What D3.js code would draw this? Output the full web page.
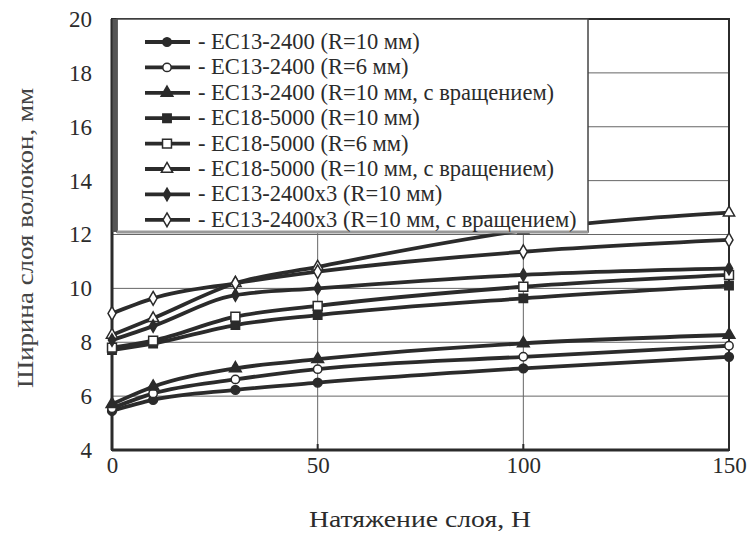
<!DOCTYPE html>
<html>
<head>
<meta charset="utf-8">
<script src="https://cdn.jsdelivr.net/npm/d3@7"></script>
<style>
  body { margin: 0; background: #fff; }
</style>
</head>
<body>
<div id="chart"></div>
<script>
// tension values (H)
const tension = [0, 10, 30, 50, 100, 150];

const s1 = [5.45, 5.86, 6.23, 6.5, 7.03, 7.46];   // EC13-2400 R=10
const s2 = [5.55, 6.1, 6.62, 7.0, 7.46, 7.87];    // EC13-2400 R=6
const s3 = [5.7, 6.35, 7.03, 7.37, 7.96, 8.27];   // EC13-2400 R=10 rot
const s4 = [7.71, 7.95, 8.64, 9.01, 9.63, 10.1];  // EC18-5000 R=10
const s5 = [7.8, 8.06, 8.95, 9.35, 10.06, 10.5];  // EC18-5000 R=6
const s6 = [8.27, 8.89, 10.19, 10.8, 12.15, 12.81]; // EC18-5000 R=10 rot
const s7 = [8.08, 8.6, 9.75, 10.0, 10.5, 10.74];  // EC13-2400x3 R=10
const s8 = [9.07, 9.63, 10.19, 10.62, 11.36, 11.8]; // EC13-2400x3 rot

const labels = [
  "EC13-2400 (R=10 мм)",
  "EC13-2400 (R=6 мм)",
  "EC13-2400 (R=10 мм, с вращением)",
  "EC18-5000 (R=10 мм)",
  "EC18-5000 (R=6 мм)",
  "EC18-5000 (R=10 мм, с вращением)",
  "EC13-2400x3 (R=10 мм)",
  "EC13-2400x3 (R=10 мм, с вращением)"
];
const xTicks = [0, 50, 100, 150];
const yTicks = [4, 6, 8, 10, 12, 14, 16, 18, 20];

const series = [s1, s2, s3, s4, s5, s6, s7, s8];
// marker per series: symbol, filled?, size
const marks = [
  [d3.symbolCircle, true, 60],
  [d3.symbolCircle, false, 55],
  [d3.symbolTriangle, true, 60],
  [d3.symbolSquare, true, 70],
  [d3.symbolSquare, false, 80],
  [d3.symbolTriangle, false, 55],
  [d3.symbolDiamond, true, 45],
  [d3.symbolDiamond, false, 55]
];

const width = 750, height = 533;
const margin = { top: 19, right: 21, bottom: 83, left: 112 };
const ink = "#2b2b2b";
const serif = "Liberation Serif";

const svg = d3.select("#chart").append("svg")
  .attr("width", width).attr("height", height)
  .attr("font-family", serif);

var x = d3.scaleLinear().domain([0, 150]).range([margin.left, width - margin.right]);
var y = d3.scaleLinear().domain([4, 20]).range([height - margin.bottom, margin.top]);

// grid
svg.append("g").selectAll("line").data(yTicks.slice(1, -1)).join("line")
  .attr("x1", x(0)).attr("x2", x(150))
  .attr("y1", d => y(d)).attr("y2", d => y(d))
  .attr("stroke", "#666").attr("stroke-width", 1);
svg.append("g").selectAll("line").data(xTicks.slice(1, -1)).join("line")
  .attr("x1", d => x(d)).attr("x2", d => x(d))
  .attr("y1", y(4)).attr("y2", y(20))
  .attr("stroke", "#666").attr("stroke-width", 1);

// frame
svg.append("rect")
  .attr("x", x(0)).attr("y", y(20))
  .attr("width", x(150) - x(0)).attr("height", y(4) - y(20))
  .attr("fill", "none").attr("stroke", ink).attr("stroke-width", 2);
svg.append("line").attr("x1", x(0)).attr("x2", x(0)).attr("y1", y(20)).attr("y2", y(4))
  .attr("stroke", ink).attr("stroke-width", 3);
svg.append("line").attr("x1", x(0)).attr("x2", x(150)).attr("y1", y(4)).attr("y2", y(4))
  .attr("stroke", ink).attr("stroke-width", 3);

// axes
const yAxis = svg.append("g")
  .attr("transform", `translate(${x(0)},0)`)
  .call(d3.axisLeft(y).tickValues(yTicks).tickSize(0).tickPadding(20));
yAxis.attr("font-family", serif).attr("font-size", 23);
yAxis.select(".domain").remove();
yAxis.selectAll("text").attr("fill", ink);

const xAxis = svg.append("g")
  .attr("transform", `translate(0,${y(4)})`)
  .call(d3.axisBottom(x).tickValues(xTicks).tickSize(0).tickPadding(7));
xAxis.attr("font-family", serif).attr("font-size", 23);
xAxis.select(".domain").remove();
xAxis.selectAll("text").attr("fill", ink);

// small ticks on bottom at 50/100
svg.append("g").selectAll("line").data(xTicks.slice(1, -1)).join("line")
  .attr("x1", d => x(d)).attr("x2", d => x(d))
  .attr("y1", y(4)).attr("y2", y(4) - 6)
  .attr("stroke", ink).attr("stroke-width", 2);

// axis titles
svg.append("text")
  .attr("x", 420).attr("y", 527)
  .attr("text-anchor", "middle").attr("font-size", 23).attr("fill", ink)
  .attr("textLength", 222).attr("lengthAdjust", "spacingAndGlyphs")
  .text("Натяжение слоя, Н");
svg.append("text")
  .attr("transform", `translate(33,238) rotate(-90)`)
  .attr("text-anchor", "middle").attr("font-size", 23).attr("fill", "#444")
  .attr("textLength", 300).attr("lengthAdjust", "spacingAndGlyphs")
  .text("Ширина слоя волокон, мм");

// lines
const line = d3.line()
  .x((d, i) => x(tension[i]))
  .y(d => y(d))
  .curve(d3.curveMonotoneX);

series.forEach((s, k) => {
  svg.append("path").datum(s)
    .attr("d", line)
    .attr("fill", "none").attr("stroke", ink).attr("stroke-width", 3.8);
});
series.forEach((s, k) => {
  const m = marks[k];
  svg.append("g").selectAll("path").data(s).join("path")
    .attr("transform", (d, i) => `translate(${x(tension[i])},${y(d)})`)
    .attr("d", d3.symbol().type(m[0]).size(m[2]))
    .attr("fill", m[1] ? ink : "#fff")
    .attr("stroke", ink).attr("stroke-width", 1.5);
});

// legend
const lg = svg.append("g");
lg.append("rect")
  .attr("x", 117).attr("y", 19).attr("width", 471).attr("height", 213)
  .attr("fill", "#fff").attr("stroke", "#444").attr("stroke-width", 1.5);
lg.append("line").attr("x1", 115).attr("x2", 115).attr("y1", 19).attr("y2", 232)
  .attr("stroke", "#555").attr("stroke-width", 5);
lg.append("line").attr("x1", 117).attr("x2", 588).attr("y1", 232).attr("y2", 232)
  .attr("stroke", "#999").attr("stroke-width", 3);

labels.forEach((t, k) => {
  const ly = 42 + k * 25.4;
  const m = marks[k];
  lg.append("line").attr("x1", 145).attr("x2", 190).attr("y1", ly).attr("y2", ly)
    .attr("stroke", ink).attr("stroke-width", 3.8);
  lg.append("path")
    .attr("transform", `translate(167,${ly})`)
    .attr("d", d3.symbol().type(m[0]).size(m[2]))
    .attr("fill", m[1] ? ink : "#fff")
    .attr("stroke", ink).attr("stroke-width", 1.5);
  lg.append("text")
    .attr("x", 198).attr("y", ly + 7)
    .attr("font-size", 22.5).attr("fill", ink)
    .text("- " + t);
});
</script>
</body>
</html>
